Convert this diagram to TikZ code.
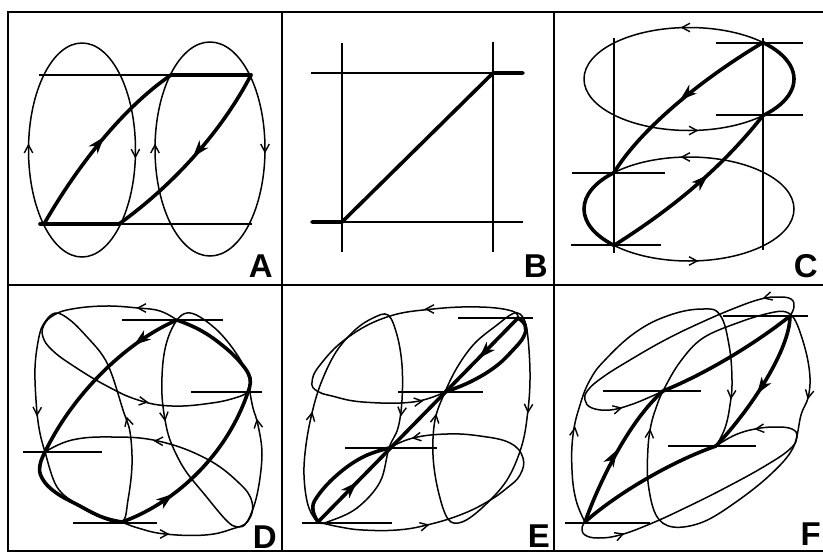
\documentclass[tikz,border=0pt]{standalone}
\usepackage{fontspec}
\setsansfont{Liberation Sans}
\usetikzlibrary{calc}
\tikzset{
  thinl/.style={line width=1.5pt, line join=round},
  thickl/.style={line width=3.6pt, line cap=round, line join=round},
  gridl/.style={line width=1.2pt},
  framel/.style={line width=1.5pt},
  tarrow/.style={line width=1.4pt, line join=miter},
  lab/.style={font=\sffamily\bfseries\fontsize{33}{33}\selectfont, inner sep=0pt, anchor=base east},
}
\newcommand\tarr[2]{\draw[tarrow] (#1) ++({#2+152}:9) -- (#1) -- ++({#2-152}:9);}
\newcommand\harr[2]{\fill ($(#1)+({#2+161}:18)$) -- (#1) -- ($(#1)+({#2-161}:18)$) -- ($(#1)+({#2+180}:12)$) -- cycle;}
\begin{document}
\begin{tikzpicture}[x=1pt,y=-1pt]
\useasboundingbox (0,0) rectangle (823,555);
% frame
\draw[framel] (823,12) -- (8,12) -- (8,551) -- (823,551);
\draw[framel] (8,285) -- (823,285);
\draw[framel] (282,12) -- (282,551);
\draw[framel] (554,12) -- (554,551);

% ---------------- A
\draw[thinl] (82,150) ellipse [x radius=53.5, y radius=107];
\draw[thinl] (210,149) ellipse [x radius=55, y radius=107];
\draw[gridl] (39,75) -- (252,75);
\draw[gridl] (39,224) -- (252,224);
\draw[thickl] (40,224) -- (119,224);
\draw[thickl] (171,75) -- (251,75);
\draw[thickl] (44,224) .. controls (75,170) and (120,110) .. (171,75);
\draw[thickl] (251,75) .. controls (225,125) and (180,180) .. (119,224);
\harr{104,137}{-50}
\harr{193,157}{130}
\tarr{28.5,145}{-90}
\tarr{135.4,157}{90}
\tarr{155,145}{-90}
\tarr{265,152}{90}
\node[lab] (labA) at (273,277) {A};

% ---------------- B
\draw[gridl] (342,43) -- (342,252);
\draw[gridl] (493,42) -- (493,252);
\draw[gridl] (311,73) -- (523,73);
\draw[gridl] (311,222) -- (523,222);
\draw[thickl] (312,222) -- (342,222) -- (493,73) -- (523,73);
\node[lab] (labB) at (548,277) {B};

% ---------------- C
\draw[gridl] (614,38) -- (614,253);
\draw[gridl] (763,38) -- (763,250);
\draw[gridl] (716,43) -- (803,43);
\draw[gridl] (716,115) -- (803,115);
\draw[gridl] (572,173) -- (665,173);
\draw[gridl] (571,245) -- (661,245);
\draw[thinl] (689,79) ellipse [x radius=105, y radius=51.5];
\draw[thinl] (689,209) ellipse [x radius=105, y radius=52];
\draw[thickl] (763,42.5) arc[start angle=-45.2, end angle=45.2, x radius=105, y radius=51.5];
\draw[thickl] (614,172.6) arc[start angle=224.4, end angle=135.6, x radius=105, y radius=52];
\draw[thickl] (614,172.6) .. controls (640,130) and (700,80) .. (763,42.5);
\draw[thickl] (614,245.4) .. controls (670,210) and (720,170) .. (763,115.5);
\harr{680,100}{140}
\harr{708,175}{-43}
\tarr{682,27.5}{180}
\tarr{697,130.5}{0}
\tarr{682,157}{180}
\tarr{697,261}{0}
\node[lab] (labC) at (818,277) {C};

% ---------------- D
\draw[gridl] (122,320) -- (223,320);
\draw[gridl] (191,392) -- (262,392);
\draw[gridl] (23,452) -- (102,452);
\draw[gridl] (73,523) -- (157,523);
% ellipse 1 (top, open)
\draw[thinl] plot[smooth, tension=0.7] coordinates {(177,320) (160,311) (138,308) (105,306) (72,309) (54,315) (44,325) (43,337) (52,350) (72,365) (105,385) (138,400) (172,406) (212,403) (238,397) (248,392)};
% ellipse 4 (right, closed)
\draw[thinl] plot[smooth cycle, tension=0.6] coordinates {(177,320) (187,313) (200,317) (220,333) (238,356) (249,378) (250,392) (253,408) (258,425) (262,455) (257,495) (247,522) (237,527) (226,520) (205,495) (185,470) (172,445) (166,425) (162,395) (163,362) (168,338)};
% ellipse 3 (left, closed)
\draw[thinl] plot[smooth cycle, tension=0.6] coordinates {(55,313) (70,320) (88,338) (103,356) (112,375) (123,410) (130,432) (132,465) (128,500) (122,522) (100,517) (78,505) (57,487) (45,452) (39,428) (36,400) (35,368) (38,342) (43,325)};
% ellipse 2 (bottom, open)
\draw[thinl] plot[smooth, tension=0.7] coordinates {(122,522) (138,528) (165,534) (205,535) (232,529) (248,521) (252,502) (238,482) (205,458) (158,441) (112,437) (72,440) (45,452)};
% thick
\draw[thickl] plot[smooth, tension=0.7] coordinates {(177,320) (200,330) (222,345) (240,362) (250,378) (248,392)};
\draw[thickl] plot[smooth, tension=0.7] coordinates {(45,452) (40,465) (42,478) (55,492) (78,505) (102,517) (122,522)};
\draw[thickl] (177,320) .. controls (130,340) and (75,390) .. (45,452);
\draw[thickl] (122,522) .. controls (170,505) and (225,460) .. (248,392);
\harr{134,345}{143}
\harr{173,494}{-37}
\tarr{138,308}{180}
\tarr{147,402}{8}
\tarr{37,415}{92}
\tarr{127,418}{-105}
\tarr{165,420}{82}
\tarr{257,420}{-100}
\tarr{155,441}{182}
\tarr{168,534}{0}
\node[lab] (labD) at (277,548) {D};

% ---------------- E
\draw[gridl] (458,318) -- (533,318);
\draw[gridl] (398,392) -- (483,392);
\draw[gridl] (345,448) -- (437,448);
\draw[gridl] (302,523) -- (392,523);
\draw[thinl] plot[smooth, tension=0.7] coordinates {(518,318) (512,311) (480,307) (433,309) (387,317) (347,338) (320,365) (312,382) (317,391) (332,396) (363,402) (413,402) (445,392)};
\draw[thinl] plot[smooth cycle, tension=0.6] coordinates {(445,392) (458,366) (475,343) (497,325) (512,314) (520,314) (526,325) (529,350) (530,380) (528,410) (522,445) (507,480) (483,507) (462,522) (448,519) (438,490) (433,455) (435,420)};
\draw[thinl] plot[smooth cycle, tension=0.6] coordinates {(388,315) (397,335) (402,365) (402,400) (398,428) (389,448) (380,482) (357,508) (330,521) (318,522) (308,505) (304,475) (306,445) (312,413) (321,383) (336,352) (355,330) (373,318)};
\draw[thinl] plot[smooth, tension=0.7] coordinates {(389,448) (413,438) (447,434) (480,436) (510,443) (523,458) (520,475) (507,488) (487,502) (460,515) (427,525) (397,530) (363,530) (340,527) (318,522)};
\draw[thickl] plot[smooth, tension=0.7] coordinates {(445,392) (470,382) (495,367) (513,350) (524,336) (525,325) (518,318)};
\draw[thickl] plot[smooth, tension=0.7] coordinates {(318,522) (313,510) (317,497) (337,475) (363,457) (389,448)};
\draw[thickl] (318,522) -- (518,318);
\harr{357,482}{-45.6}
\harr{479,358}{134.4}
\tarr{426,309}{180}
\tarr{422,401}{-8}
\tarr{312,413}{-79}
\tarr{401,415}{98}
\tarr{436,415}{-80}
\tarr{528,412}{94}
\tarr{413,438}{170}
\tarr{428,525}{-13}
\node[lab] (labE) at (550,547) {E};

% ---------------- F
\draw[gridl] (723,316) -- (808,316);
\draw[gridl] (603,391) -- (701,391);
\draw[gridl] (668,446) -- (756,446);
\draw[gridl] (565,523) -- (650,523);
\draw[thinl] plot[smooth, tension=0.7] coordinates {(790,316) (794,307) (791,299) (778,297) (761,299) (735,308) (700,323) (665,340) (630,360) (603,377) (588,390) (585,400) (592,408) (610,410) (630,405) (650,397) (663,391)};
\draw[thinl] plot[smooth cycle, tension=0.6] coordinates {(663,391) (680,362) (703,338) (740,322) (770,313) (786,312) (796,322) (806,352) (810,378) (808,398) (801,415) (793,448) (770,475) (736,502) (703,522) (673,527) (656,515) (648,482) (648,448) (651,425) (656,408)};
\draw[thinl] plot[smooth, tension=0.7] coordinates {(585,522) (576,500) (572,470) (573,435) (580,405) (590,380) (605,360) (636,332) (670,315) (703,309) (720,315) (729,345) (732,380) (730,405) (725,428) (716,446)};
\draw[thinl] plot[smooth, tension=0.7] coordinates {(716,446) (735,435) (755,429) (775,427) (792,429) (797,437) (790,449) (765,466) (725,488) (685,508) (650,524) (620,535) (598,538) (585,535) (582,528) (585,522)};
\draw[thickl] (585,522) .. controls (600,480) and (630,420) .. (663,391);
\draw[thickl] (663,391) .. controls (710,372) and (760,340) .. (790,316);
\draw[thickl] (790,316) .. controls (790,350) and (750,410) .. (716,446);
\draw[thickl] (716,446) .. controls (670,462) and (615,495) .. (585,522);
\harr{617,450}{-60}
\harr{757,394}{124}
\tarr{764,298}{165}
\tarr{621,408}{-14}
\tarr{575,428}{-82}
\tarr{731,398}{95}
\tarr{650,430}{-85}
\tarr{808,398}{102}
\tarr{756,429}{174}
\tarr{623,534}{-20}
\node[lab] (labF) at (821,545) {F};
\end{tikzpicture}
\end{document}
